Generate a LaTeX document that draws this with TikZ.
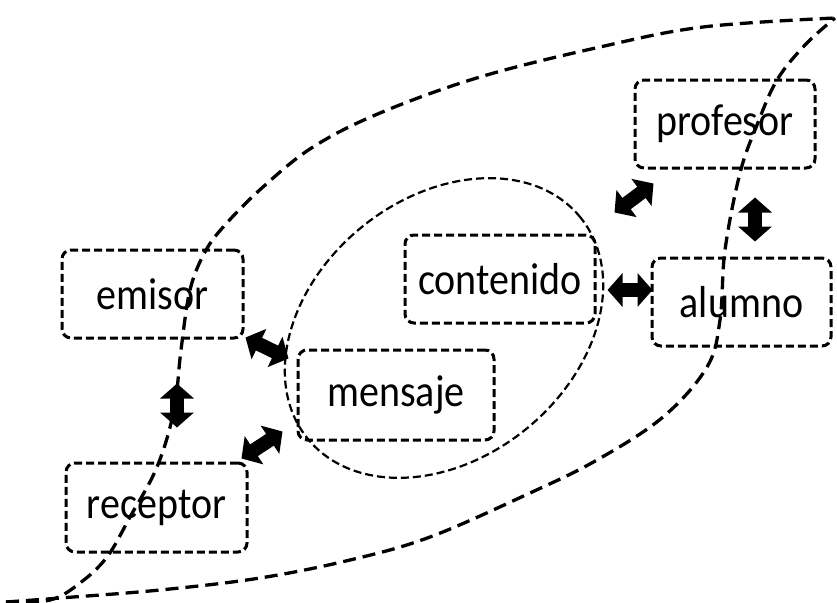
\documentclass[tikz,border=0pt]{standalone}
\usepackage{graphicx}
\usepackage{fontspec}
\setmainfont{Carlito}
\usetikzlibrary{arrows.meta}
\tikzset{
  box/.style={draw, line width=3pt, dash pattern=on 8pt off 4pt, rounded corners=9pt,
    minimum width=#1, minimum height=88pt, inner sep=0pt, font=\fontsize{40}{44}\selectfont},
  box/.default=181pt,
  lens/.style={line width=3.3pt, dash pattern=on 13pt off 7pt},
  oval/.style={line width=2.2pt, dash pattern=on 8pt off 4pt},
  dbl/.style={line width=14pt, {Triangle[length=15pt,width=33pt]}-{Triangle[length=15pt,width=33pt]}}
}
\newcommand{\tx}[1]{\scalebox{1}[1.12]{#1}}
\begin{document}
\begin{tikzpicture}[x=1pt,y=-1pt]
\useasboundingbox (0,0) rectangle (837,602);
% lens curves
\draw[lens] plot[smooth, tension=0.6] coordinates {(6,602) (50,600) (80,583) (107,557) (130,517) (157,467) (174,410) (181,350) (190,290) (205,252) (225,225) (263,187) (313,147) (380,113) (480,77) (600,47) (703,27) (835,18)};
\draw[lens] plot[smooth, tension=0.6] coordinates {(6,602) (60,598) (160,590) (260,578) (350,560) (430,537) (530,493) (597,460) (663,417) (707,367) (720,320) (725,250) (740,173) (757,125) (777,80) (805,45) (835,18)};
% ellipse
\draw[oval, rotate around={39:(444,328)}] (444,328) ellipse [x radius=175.6pt, y radius=130.2pt];
% nodes
\node[box=180pt] (profesor) at (725,124) {\tx{profesor}};
\node[box] (emisor) at (152.5,294) {\tx{emisor}};
\node[box=190pt] (contenido) at (500,279) {\tx{contenido}};
\node[box=179pt] (alumno) at (741.5,302) {\tx{alumno}};
\node[box=196pt, minimum height=90pt] (mensaje) at (396,395) {\tx{mensaje}};
\node[box, minimum height=89pt] (receptor) at (156.5,507.5) {\tx{receptor}};
% arrows
\draw[dbl] ([shift={(1,-2)}]emisor.south east) -- ([shift={(-8,10)}]mensaje.north west);
\draw[dbl] ([shift={(-7,-3)}]receptor.north east) -- ([shift={(-14,-10)}]mensaje.south west);
\draw[dbl] ([shift={(24.5,44)}]emisor.south) -- ([shift={(20.5,-34)}]receptor.north);
\draw[dbl] ([shift={(11,11)}]contenido.east) -- ([shift={(2,-12)}]alumno.west);
\draw[dbl] ([shift={(18,-21)}]contenido.north east) -- ([shift={(20,14)}]profesor.south west);
\draw[dbl] ([shift={(30,28)}]profesor.south) -- ([shift={(13.5,-15)}]alumno.north);
\end{tikzpicture}
\end{document}
